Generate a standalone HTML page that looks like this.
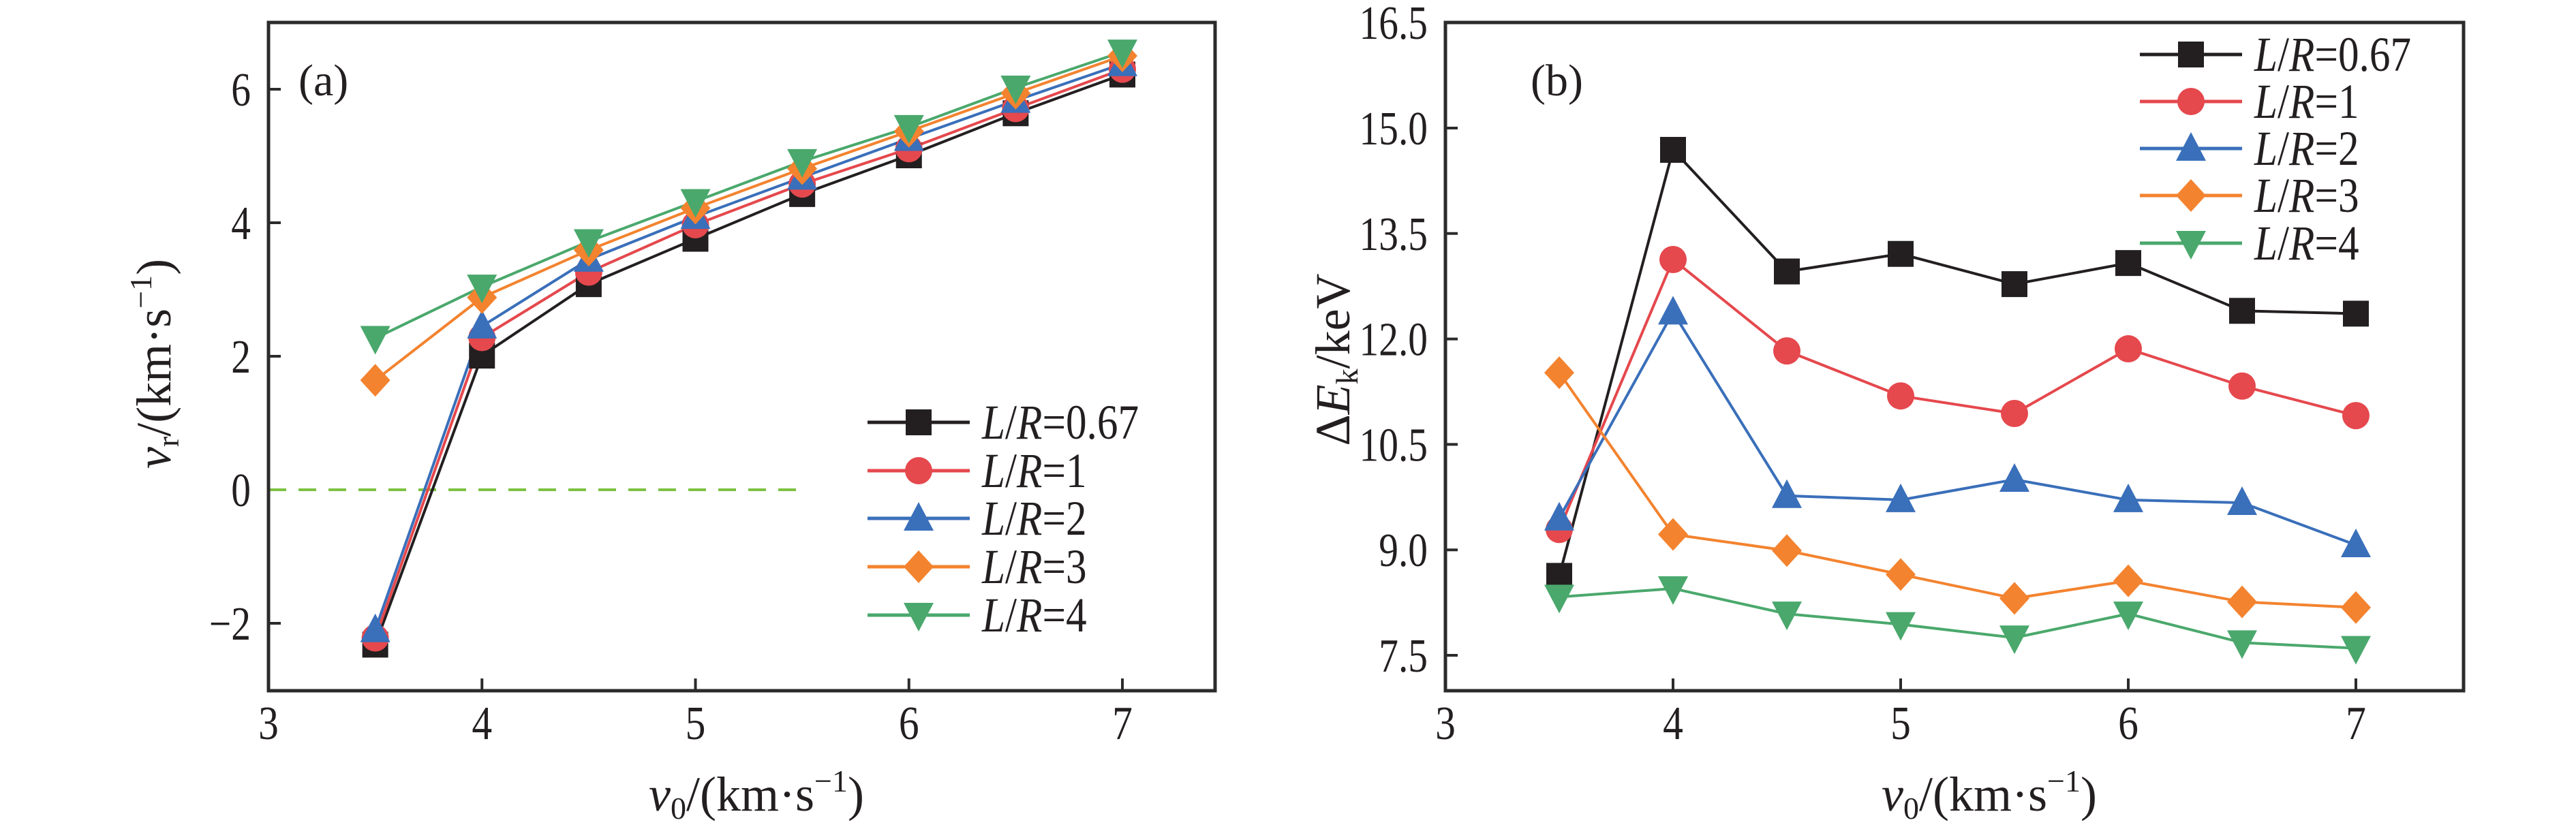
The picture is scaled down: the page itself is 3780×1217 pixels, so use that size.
<!DOCTYPE html>
<html><head><meta charset="utf-8"><style>
html,body{margin:0;padding:0;background:#fff}
svg{display:block;font-family:"Liberation Serif",serif}
</style></head><body>
<svg id="fig" width="3780" height="1217" viewBox="0 0 3780 1217" xmlns="http://www.w3.org/2000/svg"></svg>
<script>
const xValues=[3.5,4,4.5,5,5.5,6,6.5,7];
const seriesLabels=["0.67","1","2","3","4"];
const aVr067=[-2.32,2.01,3.08,3.76,4.43,5.01,5.64,6.22];
const aVr1=[-2.22,2.28,3.26,3.97,4.58,5.11,5.71,6.30];
const aVr2=[-2.10,2.45,3.45,4.09,4.68,5.26,5.83,6.38];
const aVr3=[1.64,2.88,3.59,4.22,4.81,5.37,5.94,6.50];
const aVr4=[2.27,3.04,3.72,4.32,4.92,5.43,6.02,6.56];
const bEk067=[8.63,14.69,12.96,13.21,12.78,13.08,12.40,12.36];
const bEk1=[9.29,13.13,11.83,11.19,10.94,11.86,11.33,10.91];
const bEk2=[9.45,12.38,9.77,9.71,10.00,9.71,9.67,9.07];
const bEk3=[11.52,9.22,8.99,8.65,8.31,8.56,8.26,8.18];
const bEk4=[8.33,8.45,8.09,7.94,7.75,8.09,7.68,7.60];
const xTicks=[3,4,5,6,7];
const aYTicks=[-2,0,2,4,6];
const bYTicks=[7.5,9.0,10.5,12.0,13.5,15.0,16.5];

const NS="http://www.w3.org/2000/svg";
const svg=document.getElementById('fig');
const colors=["#231f20","#e5484d","#3a6fba","#f3832f","#4aa86c"];
const markers=["square","circle","up","diamond","down"];
function mk(tag,attrs,parent){const e=document.createElementNS(NS,tag);for(const k in attrs)e.setAttribute(k,attrs[k]);(parent||svg).appendChild(e);return e;}
function condense(t,f){try{const w=t.getComputedTextLength();if(w>0){t.setAttribute('textLength',w*f);t.setAttribute('lengthAdjust','spacingAndGlyphs');}}catch(e){}}
function marker(g,type,cx,cy,c){
  const s=19;let e;
  if(type==="square")e=mk('rect',{x:cx-s,y:cy-s,width:2*s,height:2*s,fill:c},g);
  else if(type==="circle")e=mk('circle',{cx:cx,cy:cy,r:s+1,fill:c},g);
  else if(type==="up")e=mk('polygon',{points:`${cx},${cy-s-5} ${cx+s+3},${cy+s-1} ${cx-s-3},${cy+s-1}`,fill:c},g);
  else if(type==="down")e=mk('polygon',{points:`${cx},${cy+s+5} ${cx+s+3},${cy-s+1} ${cx-s-3},${cy-s+1}`,fill:c},g);
  else e=mk('polygon',{points:`${cx},${cy-s-5} ${cx+s+3},${cy} ${cx},${cy+s+5} ${cx-s-3},${cy}`,fill:c},g);
  
  
}
function panel(p){
  const g=mk('g',{});
  
  
  const X=v=>p.x0+(v-3)*p.xs, Y=v=>p.yRef-(v-p.vRef)*p.ys;
  xTicks.forEach(t=>{
    const l=mk('line',{x1:X(t),x2:X(t),y1:p.bottom,y2:p.bottom-18,stroke:"#2b2b2b","stroke-width":4},g);
    
    const tx=mk('text',{x:X(t),y:1085,"font-size":70,"text-anchor":"middle",fill:"#231f20"},g);
    tx.textContent=t;
    condense(tx,0.85);
  });
  p.yTicks.forEach(t=>{
    const l=mk('line',{x1:p.x0,x2:p.x0+18,y1:Y(t),y2:Y(t),stroke:"#2b2b2b","stroke-width":4},g);
    
    const tx=mk('text',{x:p.x0-26,y:Y(t)+24,"font-size":70,"text-anchor":"end",fill:"#231f20"},g);
    tx.textContent=p.fmt(t);
    condense(tx,0.82);
  });
  if(p.dash){
    const d=mk('line',{x1:X(3),x2:X(5.5),y1:Y(0),y2:Y(0),stroke:"#7dc142","stroke-width":4,"stroke-dasharray":"26,18"},g);
    
  }
  p.series.forEach((arr,i)=>{
    const pts=xValues.map((x,j)=>X(x)+","+Y(arr[j])).join(" ");
    const pl=mk('polyline',{points:pts,fill:"none",stroke:colors[i],"stroke-width":4},g);
    
  });
  p.series.forEach((arr,i)=>{xValues.forEach((x,j)=>marker(g,markers[i],X(x),Y(arr[j]),colors[i]));});
  const fr=mk('rect',{x:p.x0,y:33,width:p.right-p.x0,height:p.bottom-33,fill:"none",stroke:"#2b2b2b","stroke-width":5},g);
  
  const lg=mk('g',{},g);
  
  seriesLabels.forEach((s,i)=>{
    const y=p.legY[i];
    const ln=mk('line',{x1:p.legX,x2:p.legX+150,y1:y,y2:y,stroke:colors[i],"stroke-width":5},lg);
    
    marker(lg,markers[i],p.legX+75,y,colors[i]);
    const t=mk('text',{x:p.legX+168,y:y+24,"font-size":72,fill:"#231f20"},lg);
    t.innerHTML='<tspan font-style="italic">L</tspan>/<tspan font-style="italic">R</tspan>='+s;
    
    condense(t,0.85);
  });
  const lab=mk('text',{x:p.labX,y:140,"font-size":66,fill:"#231f20"},g);
  lab.textContent=p.lab;
  const xt=mk('text',{x:p.xTitleX,y:1190,"font-size":72,"text-anchor":"middle",fill:"#231f20"},g);
  xt.innerHTML='<tspan font-style="italic">v</tspan><tspan font-size="46" dy="12">0</tspan><tspan dy="-12">/(km·s</tspan><tspan font-size="46" dy="-28">−1</tspan><tspan dy="28">)</tspan>';
  
  const yt=mk('text',{x:0,y:0,"font-size":72,"text-anchor":"middle",fill:"#231f20",transform:`translate(${p.yTitleX},${p.yTitleY}) rotate(-90)`},g);
  yt.innerHTML=p.yTitle;
  
}
panel({name:"panel-a",x0:394,xs:313.25,right:1783,bottom:1014,yRef:719,vRef:0,ys:98,yTicks:aYTicks,fmt:t=>t<0?"−"+(-t):""+t,
  series:[aVr067,aVr1,aVr2,aVr3,aVr4],dash:true,legX:1273,legY:[620,691,761,832,903],labX:438,lab:"(a)",
  xTitleX:1110,yTitleX:250,yTitleY:534,
  yTitle:'<tspan font-style="italic">v</tspan><tspan font-size="46" dy="12">r</tspan><tspan dy="-12">/(km·s</tspan><tspan font-size="46" dy="-28">−1</tspan><tspan dy="28">)</tspan>'});
panel({name:"panel-b",x0:2121,xs:334,right:3615,bottom:1014,yRef:962,vRef:7.5,ys:103.2,yTicks:bYTicks,fmt:t=>t.toFixed(1),
  series:[bEk067,bEk1,bEk2,bEk3,bEk4],dash:false,legX:3140,legY:[80,149,218,287,357],labX:2246,lab:"(b)",
  xTitleX:2919,yTitleX:1980,yTitleY:528,
  yTitle:'Δ<tspan font-style="italic">E</tspan><tspan font-size="46" dy="12">k</tspan><tspan dy="-12">/keV</tspan>'});
</script>
</body></html>
